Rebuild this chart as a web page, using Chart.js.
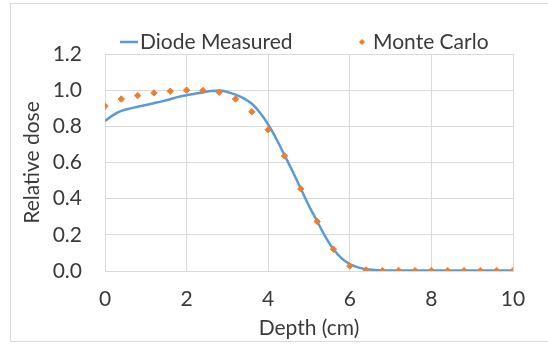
<!DOCTYPE html>
<html lang="en">
<head>
    <meta charset="UTF-8">
    <title>Relative dose vs depth</title>
    <script src="https://cdn.jsdelivr.net/npm/chart.js"></script>
    <style>
        html, body {
            margin: 0;
            padding: 0;
            width: 548px;
            height: 347px;
            overflow: hidden;
            background: #fff;
        }

        .frame {
            position: absolute;
            left: 10px;
            top: 3px;
            width: 560px;
            height: 337px;
            border: 1px solid #d9d9d9;
        }

        .wrap {
            position: absolute;
            left: 0;
            top: 0;
            width: 548px;
            height: 347px;
        }
    </style>
</head>
<body>
    <div class="frame"></div>
    <div class="wrap">
        <canvas id="doseChart" width="548" height="347"></canvas>
    </div>

    <script>
        // Diode measurement (smooth curve)
        const diodeDepth = [0, 0.2, 0.4, 0.6, 0.8, 1.0, 1.2, 1.4, 1.6, 1.8, 2.0, 2.2, 2.4, 2.6, 2.8, 3.0,
            3.2, 3.4, 3.6, 3.8, 4.0, 4.2, 4.4, 4.6, 4.8, 5.0, 5.2, 5.4, 5.6, 5.8, 6.0, 6.2, 6.4, 6.6, 6.8,
            7.0, 8.0, 9.0, 10.0];
        const diodeDose = [0.83, 0.862, 0.885, 0.898, 0.908, 0.918, 0.928, 0.938, 0.95, 0.963, 0.972, 0.98,
            0.988, 0.995, 0.998, 0.99, 0.975, 0.955, 0.925, 0.875, 0.81, 0.73, 0.64, 0.55, 0.455, 0.36,
            0.275, 0.19, 0.12, 0.07, 0.038, 0.02, 0.01, 0.006, 0.004, 0.003, 0.003, 0.003, 0.003];

        // Monte Carlo points
        const mcDepth = [0, 0.4, 0.8, 1.2, 1.6, 2.0, 2.4, 2.8, 3.2, 3.6, 4.0, 4.4, 4.8, 5.2, 5.6, 6.0,
            6.4, 6.8, 7.2, 7.6, 8.0, 8.4, 8.8, 9.2, 9.6, 10.0];
        const mcDose = [0.912, 0.951, 0.970, 0.985, 0.994, 1.0, 0.998, 0.988, 0.951, 0.881, 0.781, 0.636,
            0.454, 0.274, 0.12, 0.028, 0.006, 0.002, 0.002, 0.002, 0.002, 0.002, 0.002, 0.002, 0.002, 0.002];

        const seriesNames = ['Diode Measured', 'Monte Carlo'];
        const xTicks = [0, 2, 4, 6, 8, 10];
        const yTicks = [0, 0.2, 0.4, 0.6, 0.8, 1.0, 1.2];

        const FONT = 'Lato, "Open Sans", sans-serif';
        const FSIZE = 21;
        const TEXT = '#3a3a3a';
        const GRID = '#d9d9d9';

        // legend drawn by hand, Excel style (two items spread apart)
        const legendPlugin = {
            id: 'excelLegend',
            afterDraw(chart) {
                const ctx = chart.ctx;
                const ds = chart.data.datasets;
                const y = 42;
                ctx.save();
                ctx.font = FSIZE + 'px ' + FONT;
                ctx.fillStyle = TEXT;
                ctx.textBaseline = 'middle';
                ctx.textAlign = 'left';

                ctx.strokeStyle = ds[0].borderColor;
                ctx.lineWidth = 2.5;
                ctx.beginPath();
                ctx.moveTo(120, y);
                ctx.lineTo(138, y);
                ctx.stroke();
                ctx.fillText(ds[0].label, 140, y);

                ctx.fillStyle = ds[1].backgroundColor;
                ctx.beginPath();
                ctx.moveTo(362, y - 3);
                ctx.lineTo(365, y);
                ctx.lineTo(362, y + 3);
                ctx.lineTo(359, y);
                ctx.closePath();
                ctx.fill();
                ctx.fillStyle = TEXT;
                ctx.fillText(ds[1].label, 373, y);
                ctx.restore();
            }
        };

        const ctx = document.getElementById('doseChart').getContext('2d');
        const doseChart = new Chart(ctx, {
            type: 'scatter',
            data: {
                datasets: [{
                    label: seriesNames[0],
                    data: diodeDepth.map((x, i) => ({ x: x, y: diodeDose[i] })),
                    showLine: true,
                    borderColor: '#5b9bd5',
                    backgroundColor: '#5b9bd5',
                    borderWidth: 2.5,
                    pointRadius: 0,
                    cubicInterpolationMode: 'monotone',
                    order: 2
                }, {
                    label: seriesNames[1],
                    data: mcDepth.map((x, i) => ({ x: x, y: mcDose[i] })),
                    showLine: false,
                    pointStyle: 'rectRot',
                    pointRadius: 3.2,
                    borderWidth: 1,
                    borderColor: '#ed7d31',
                    backgroundColor: '#ed7d31',
                    order: 1
                }]
            },
            options: {
                responsive: false,
                animation: false,
                layout: {
                    padding: { left: 0, right: 35, top: 54, bottom: 0 }
                },
                plugins: {
                    legend: { display: false },
                    tooltip: { enabled: false }
                },
                scales: {
                    x: {
                        type: 'linear',
                        min: 0,
                        max: 10,
                        afterBuildTicks: (scale) => { scale.ticks = xTicks.map(v => ({ value: v })); },
                        grid: { color: GRID, drawTicks: false },
                        border: { color: GRID },
                        ticks: {
                            padding: 16,
                            color: TEXT,
                            font: { family: FONT, size: FSIZE }
                        },
                        title: {
                            display: true,
                            text: 'Depth (cm)',
                            color: TEXT,
                            font: { family: FONT, size: FSIZE },
                            padding: { top: 0, bottom: 6 }
                        },
                        afterFit: (scale) => { scale.height = 76; }
                    },
                    y: {
                        min: 0,
                        max: 1.2,
                        afterBuildTicks: (scale) => { scale.ticks = yTicks.map(v => ({ value: v })); },
                        grid: { color: GRID, drawTicks: false },
                        border: { display: false },
                        ticks: {
                            padding: 23,
                            color: TEXT,
                            font: { family: FONT, size: FSIZE },
                            callback: (v) => Number(v).toFixed(1)
                        },
                        title: {
                            display: true,
                            text: 'Relative dose',
                            color: TEXT,
                            font: { family: FONT, size: FSIZE },
                            padding: { top: 20, bottom: 0 }
                        },
                        afterFit: (scale) => { scale.width = 105; }
                    }
                }
            },
            plugins: [legendPlugin]
        });
    </script>
</body>
</html>
